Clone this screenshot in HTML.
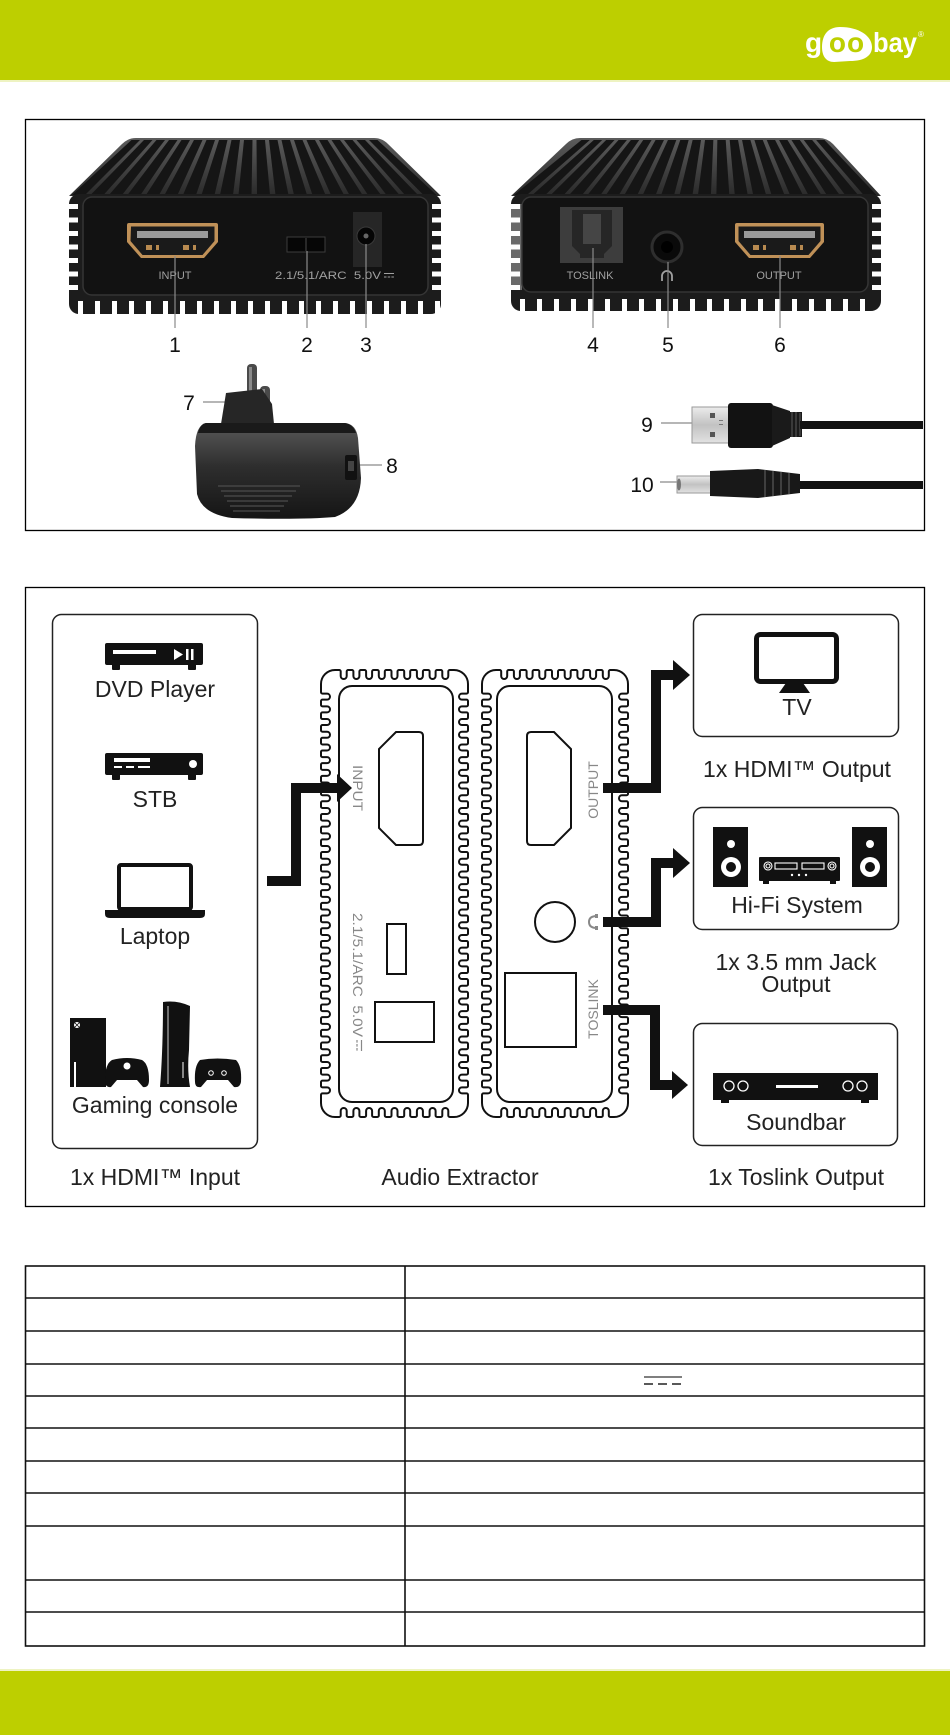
<!DOCTYPE html>
<html><head><meta charset="utf-8"><title>Audio Extractor</title>
<style>
html,body{margin:0;padding:0;background:#fff}
body{width:950px;height:1735px;overflow:hidden;position:relative}
svg{display:block}
</style></head><body>
<svg id="S" width="950" height="1735" viewBox="0 0 950 1735" font-family="'Liberation Sans', Arial, sans-serif">
<defs>
<linearGradient id="ag" x1="0" y1="0" x2="0" y2="1"><stop offset="0" stop-color="#5a5a5a"/><stop offset="0.45" stop-color="#2e2e2e"/><stop offset="1" stop-color="#151515"/></linearGradient>
<linearGradient id="mg" x1="0" y1="0" x2="0" y2="1"><stop offset="0" stop-color="#ececec"/><stop offset="0.5" stop-color="#c2c2c2"/><stop offset="1" stop-color="#e2e2e2"/></linearGradient>
<linearGradient id="tg" x1="0" y1="0" x2="0" y2="1"><stop offset="0" stop-color="#5c5c5c"/><stop offset="1" stop-color="#2a2a2a"/></linearGradient>
</defs>

<!-- header -->
<rect x="0" y="0" width="950" height="80" fill="#bdcf00"/>
<rect x="0" y="80" width="950" height="2" fill="#eef3c2"/>
<text x="805" y="52" font-size="28" font-weight="bold" fill="#fff">g</text>
<path d="M840,27 C859,27 872,36 872,47 C872,56 864,61 850,61 L834,62 C826,62 822,56 822,47 C822,35 828,27 840,27Z" fill="#fff"/>
<text x="847" y="52" font-size="28" font-weight="bold" fill="#bdcf00" text-anchor="middle" letter-spacing="1">oo</text>
<text x="873" y="52" font-size="28" font-weight="bold" fill="#fff" textLength="44" lengthAdjust="spacingAndGlyphs">bay</text>
<text x="918" y="37" font-size="8" fill="#fff">®</text>

<!-- BOX 1 -->
<rect x="25.5" y="119.5" width="899" height="411" fill="none" stroke="#000" stroke-width="1.3"/>

<!-- left device -->
<path d="M136,138 H374 Q382,138 388,144 L441,196 H69 L122,144 Q128,138 136,138Z" fill="url(#tg)"/>
<g id="f1"></g>
<rect x="69" y="194" width="372" height="120" rx="10" fill="#1c1c1c"/>
<g id="n1"></g>
<rect x="83" y="197" width="345" height="98" rx="9" fill="#121212" stroke="#353535" stroke-width="1.5"/>
<path d="M129,223 H216 Q218,223 218,225 V242 L204,258 H141 L127,242 V225 Q127,223 129,223Z" fill="#c09158"/>
<path d="M131,226.5 H214.5 V241 L202.5,255 H142.5 L130.5,241Z" fill="#1a1a1a"/>
<rect x="137" y="231" width="71" height="7" fill="#9a9a9a"/>
<rect x="146" y="245" width="6" height="5" fill="#b88a50"/><rect x="156" y="245" width="3" height="5" fill="#b88a50"/>
<rect x="183" y="245" width="6" height="5" fill="#b88a50"/><rect x="193" y="245" width="3" height="5" fill="#b88a50"/>
<rect x="287" y="237" width="38" height="15" fill="#060606" stroke="#3c3c3c"/>
<line x1="306" y1="238" x2="306" y2="251" stroke="#4a4a4a"/>
<rect x="353" y="212" width="29" height="55" fill="#262626"/>
<circle cx="366" cy="236" r="9" fill="#050505" stroke="#3a3a3a"/>
<circle cx="366" cy="236" r="2.5" fill="#666"/>
<text x="175" y="279" font-size="11" fill="#a0a0a0" text-anchor="middle">INPUT</text>
<text x="275" y="279" font-size="11" fill="#a0a0a0" textLength="106" lengthAdjust="spacingAndGlyphs">2.1/5.1/ARC&#160;&#160;5.0V</text>
<line x1="384" y1="273.5" x2="394" y2="273.5" stroke="#a0a0a0" stroke-width="1"/>
<line x1="384" y1="277" x2="394" y2="277" stroke="#a0a0a0" stroke-width="1" stroke-dasharray="2.5 1.2"/>

<!-- right device -->
<path d="M588,138 H819 Q827,138 833,144 L881,196 H511 L566,144 Q572,138 580,138Z" fill="url(#tg)"/>
<g id="f2"></g>
<rect x="511" y="194" width="370" height="117" rx="10" fill="#1c1c1c"/>
<rect x="511" y="204" width="11" height="86" fill="#6a6a6a"/>
<g id="n2"></g>
<rect x="522" y="197" width="346" height="95" rx="9" fill="#121212" stroke="#353535" stroke-width="1.5"/>
<rect x="560" y="207" width="63" height="56" fill="#3d3d3d"/>
<path d="M572,210 H612 V246 L604,254 V258 H580 V254 L572,246Z" fill="#262626"/>
<rect x="583" y="214" width="18" height="30" fill="#454545"/>
<circle cx="667" cy="247" r="15" fill="#0a0a0a" stroke="#2e2e2e" stroke-width="3"/>
<circle cx="667" cy="247" r="6" fill="#000"/>
<path d="M735,223 H822 Q824,223 824,225 V242 L810,258 H749 L735,242 V225 Q735,223 737,223Z" fill="#c09158"/>
<path d="M738.5,226.5 H820.5 V241 L808.5,255 H750.5 L738.5,241Z" fill="#1a1a1a"/>
<rect x="744" y="231" width="71" height="7" fill="#9a9a9a"/>
<rect x="753" y="245" width="6" height="5" fill="#b88a50"/><rect x="763" y="245" width="3" height="5" fill="#b88a50"/>
<rect x="790" y="245" width="6" height="5" fill="#b88a50"/><rect x="800" y="245" width="3" height="5" fill="#b88a50"/>
<text x="590" y="279" font-size="11" fill="#a0a0a0" text-anchor="middle">TOSLINK</text>
<text x="779" y="279" font-size="11" fill="#a0a0a0" text-anchor="middle">OUTPUT</text>
<path d="M662,281 V276 A5,5 0 0 1 672,276 V281" stroke="#a0a0a0" stroke-width="1.8" fill="none"/>

<!-- leaders + numbers -->
<g stroke="#8a8a8a" stroke-width="1.2">
<line x1="175" y1="256" x2="175" y2="328"/>
<line x1="307" y1="251" x2="307" y2="328"/>
<line x1="366" y1="244" x2="366" y2="328"/>
<line x1="593" y1="248" x2="593" y2="328"/>
<line x1="668" y1="262" x2="668" y2="328"/>
<line x1="780" y1="256" x2="780" y2="328"/>
<line x1="203" y1="402" x2="238" y2="402"/>
<line x1="356" y1="465" x2="382" y2="465"/>
<line x1="661" y1="423" x2="694" y2="423"/>
<line x1="660" y1="482" x2="678" y2="482"/>
</g>
<g font-size="21" fill="#111" text-anchor="middle">
<text x="175" y="352">1</text><text x="307" y="352">2</text><text x="366" y="352">3</text>
<text x="593" y="352">4</text><text x="668" y="352">5</text><text x="780" y="352">6</text>
<text x="189" y="410">7</text><text x="392" y="473">8</text>
<text x="647" y="432">9</text><text x="642" y="492">10</text>
</g>

<!-- adapter -->
<rect x="247" y="364" width="10" height="30" rx="4" fill="#4a4a4a"/>
<rect x="249" y="367" width="3" height="25" fill="#8a8a8a"/>
<rect x="260" y="386" width="10" height="20" rx="4" fill="#4a4a4a"/>
<rect x="262" y="389" width="3" height="15" fill="#8a8a8a"/>
<path d="M226,393 L262,389 L272,404 L274,424 L221,424Z" fill="#262626"/>
<path d="M206,423 H345 Q356,424 358,438 L361,478 Q360,508 335,517 Q300,520 232,518 Q202,514 197,494 L195,446 Q196,425 206,423Z" fill="url(#ag)"/>
<path d="M206,423 H345 Q353,424 356,433 H198 Q200,424 206,423Z" fill="#1a1a1a"/>
<g stroke="#4c4c4c" stroke-width="1.2">
<line x1="218" y1="486" x2="300" y2="486"/><line x1="221" y1="491" x2="296" y2="491"/>
<line x1="224" y1="496" x2="292" y2="496"/><line x1="227" y1="501" x2="288" y2="501"/>
<line x1="230" y1="506" x2="284" y2="506"/><line x1="233" y1="511" x2="280" y2="511"/>
</g>
<rect x="345" y="455" width="12" height="25" rx="2" fill="#111"/>
<rect x="348" y="461" width="6" height="10" fill="#444"/>

<!-- USB cable -->
<rect x="692" y="407" width="37" height="36" fill="url(#mg)" stroke="#9a9a9a"/>
<rect x="710" y="413" width="5" height="5" fill="#555"/>
<rect x="710" y="432" width="5" height="5" fill="#555"/>
<rect x="719" y="420" width="4" height="1" fill="#777"/><rect x="719" y="424" width="4" height="1" fill="#777"/>
<rect x="728" y="403" width="45" height="45" rx="3" fill="#121212"/>
<path d="M772,405 L790,411 V438 L772,446Z" fill="#1a1a1a"/>
<rect x="789" y="412" width="13" height="25" fill="#1a1a1a"/>
<g stroke="#505050" stroke-width="1.2"><line x1="792" y1="412" x2="792" y2="437"/><line x1="796" y1="412" x2="796" y2="437"/><line x1="800" y1="413" x2="800" y2="436"/></g>
<rect x="800" y="421" width="123" height="8" fill="#111"/>
<!-- DC cable -->
<rect x="677" y="476" width="34" height="17" fill="url(#mg)" stroke="#9a9a9a"/>
<ellipse cx="679" cy="484.5" rx="2" ry="6" fill="#777"/>
<path d="M710,471 L758,469 L800,474 V493 L758,498 L710,496Z" fill="#181818"/>
<g stroke="#555" stroke-width="1.3"><line x1="765" y1="470" x2="765" y2="497"/><line x1="773" y1="471" x2="773" y2="496"/><line x1="781" y1="472" x2="781" y2="495"/><line x1="789" y1="473" x2="789" y2="494"/></g>
<rect x="800" y="481" width="123" height="8" fill="#111"/>

<!-- BOX 2 -->
<rect x="25.5" y="587.5" width="899" height="619" fill="none" stroke="#000" stroke-width="1.3"/>

<!-- left panel -->
<rect x="52.5" y="614.5" width="205" height="534" rx="9" fill="none" stroke="#222" stroke-width="1.5"/>
<!-- DVD -->
<rect x="105" y="643" width="98" height="22" rx="2" fill="#111"/>
<rect x="112" y="664" width="8" height="6" rx="1" fill="#111"/><rect x="188" y="664" width="8" height="6" rx="1" fill="#111"/>
<rect x="113" y="650" width="43" height="4" fill="#fff"/>
<path d="M174,649 L183,654.5 L174,660Z" fill="#fff"/>
<rect x="186" y="649" width="2.5" height="11" fill="#fff"/><rect x="191" y="649" width="2.5" height="11" fill="#fff"/>
<!-- STB -->
<rect x="105" y="753" width="98" height="22" rx="2" fill="#111"/>
<rect x="112" y="774" width="8" height="6" rx="1" fill="#111"/><rect x="188" y="774" width="8" height="6" rx="1" fill="#111"/>
<rect x="114" y="758" width="36" height="4" fill="#fff"/>
<rect x="114" y="766" width="8" height="2" fill="#fff"/><rect x="126" y="766" width="8" height="2" fill="#fff"/><rect x="138" y="766" width="12" height="2" fill="#fff"/>
<circle cx="193" cy="764" r="4" fill="#fff"/>
<!-- Laptop -->
<rect x="119" y="865" width="72" height="44" rx="2" fill="none" stroke="#111" stroke-width="4"/>
<path d="M105,910 H205 V914 Q205,918 200,918 H110 Q105,918 105,914Z" fill="#111"/>
<!-- Gaming -->
<rect x="70" y="1018" width="36" height="69" fill="#111"/>
<circle cx="77" cy="1025" r="3" fill="#fff"/>
<path d="M75,1023 L79,1027 M79,1023 L75,1027" stroke="#111" stroke-width="0.8"/>
<rect x="74" y="1062" width="2" height="25" fill="#fff"/>
<path d="M112,1060 Q127,1056 142,1060 Q149,1064 149,1080 Q149,1088 143,1087 L137,1080 H117 L111,1087 Q105,1088 105,1080 Q105,1064 112,1060Z" fill="#111"/>
<circle cx="127" cy="1066" r="3.5" fill="#fff"/>
<path d="M163,1002 Q177,1000 190,1006 L189,1050 Q187,1070 190,1087 H160 Q163,1050 163,1002Z" fill="#111"/>
<line x1="168" y1="1006" x2="168" y2="1084" stroke="#fff" stroke-width="0.8"/>
<line x1="183" y1="1062" x2="183" y2="1078" stroke="#fff" stroke-width="1"/>
<path d="M200,1060 Q217,1057 236,1060 Q242,1066 241,1082 Q240,1088 234,1087 L228,1080 H207 L201,1087 Q195,1088 195,1082 Q194,1066 200,1060Z" fill="#111"/>
<circle cx="211" cy="1073" r="2.3" fill="none" stroke="#fff" stroke-width="1"/>
<circle cx="224" cy="1073" r="2.3" fill="none" stroke="#fff" stroke-width="1"/>

<g font-size="23" fill="#222" text-anchor="middle">
<text x="155" y="697">DVD Player</text>
<text x="155" y="807">STB</text>
<text x="155" y="944">Laptop</text>
<text x="155" y="1113">Gaming console</text>
<text x="155" y="1185">1x HDMI™ Input</text>
<text x="460" y="1185">Audio Extractor</text>
<text x="797" y="715">TV</text>
<text x="797" y="777">1x HDMI™ Output</text>
<text x="797" y="913">Hi-Fi System</text>
<text x="796" y="970">1x 3.5 mm Jack</text>
<text x="796" y="992">Output</text>
<text x="796" y="1130">Soundbar</text>
<text x="796" y="1185">1x Toslink Output</text>
</g>

<!-- device outlines -->
<g id="scal" fill="none" stroke="#111" stroke-width="2"></g>
<g fill="none" stroke="#111" stroke-width="2">
<rect x="339" y="686" width="114" height="416" rx="13"/>
<rect x="497" y="686" width="115" height="416" rx="13"/>
<path d="M419,732 Q423,732 423,736 V841 Q423,845 419,845 H396 L379,828 V749 L396,732Z"/>
<path d="M531,732 H554 L571,749 V828 L554,845 H531 Q527,845 527,841 V736 Q527,732 531,732Z"/>
<rect x="387" y="924" width="19" height="50"/>
<rect x="375" y="1002" width="59" height="40"/>
<circle cx="555" cy="922" r="20"/>
<rect x="505" y="973" width="71" height="74"/>
</g>
<g font-size="14" fill="#888">
<text transform="translate(353,788) rotate(90)" text-anchor="middle" textLength="46" lengthAdjust="spacingAndGlyphs">INPUT</text>
<text transform="translate(353,913) rotate(90)" textLength="124" lengthAdjust="spacingAndGlyphs">2.1/5.1/ARC&#160;&#160;5.0V</text>
<text transform="translate(598,790) rotate(-90)" text-anchor="middle">OUTPUT</text>
<text transform="translate(598,1009) rotate(-90)" text-anchor="middle">TOSLINK</text>
</g>
<line x1="361.5" y1="1040" x2="361.5" y2="1051" stroke="#888" stroke-width="1.2"/>
<line x1="357" y1="1040" x2="357" y2="1051" stroke="#888" stroke-width="1.2" stroke-dasharray="2.6 1.4"/>
<path d="M597,916 Q589,916 589,922 Q589,928 597,928" stroke="#888" stroke-width="2" fill="none"/>
<rect x="595" y="914" width="3" height="4" fill="#888"/><rect x="595" y="926" width="3" height="4" fill="#888"/>

<!-- arrows -->
<g fill="none" stroke="#111" stroke-width="10" stroke-linejoin="miter">
<path d="M267,881 H296 V788 H339"/>
<path d="M603,788 H656 V675 H675"/>
<path d="M603,922 H656 V863 H675"/>
<path d="M603,1010 H655 V1085 H674"/>
</g>
<g fill="#111">
<path d="M337,774 L352,788 L337,802Z"/>
<path d="M673,660 L690,675 L673,690Z"/>
<path d="M673,848 L690,863 L673,878Z"/>
<path d="M672,1071 L688,1085 L672,1099Z"/>
</g>

<!-- right boxes -->
<g fill="none" stroke="#222" stroke-width="1.5">
<rect x="693.5" y="614.5" width="205" height="122" rx="9"/>
<rect x="693.5" y="807.5" width="205" height="122" rx="9"/>
<rect x="693.5" y="1023.5" width="204" height="122" rx="9"/>
</g>
<!-- TV -->
<rect x="756.5" y="634.5" width="80" height="47" rx="4" fill="none" stroke="#111" stroke-width="5"/>
<path d="M786,683 H803 L810,693 H779Z" fill="#111"/>
<!-- HiFi -->
<rect x="713" y="827" width="35" height="60" fill="#111"/>
<circle cx="731" cy="844" r="4" fill="#fff"/>
<circle cx="731" cy="867" r="10" fill="#fff"/><circle cx="731" cy="867" r="5" fill="#111"/>
<rect x="852" y="827" width="35" height="60" fill="#111"/>
<circle cx="870" cy="844" r="4" fill="#fff"/>
<circle cx="870" cy="867" r="10" fill="#fff"/><circle cx="870" cy="867" r="5" fill="#111"/>
<rect x="759" y="857" width="81" height="24" rx="1" fill="#111"/>
<rect x="763" y="880" width="6" height="4" fill="#111"/><rect x="830" y="880" width="6" height="4" fill="#111"/>
<g fill="none" stroke="#fff" stroke-width="1.1">
<circle cx="768" cy="866" r="4"/><circle cx="768" cy="866" r="2"/>
<circle cx="832" cy="866" r="4"/><circle cx="832" cy="866" r="2"/>
<rect x="775" y="863" width="22" height="6"/><rect x="802" y="863" width="22" height="6"/>
</g>
<circle cx="792" cy="875" r="1.2" fill="#fff"/><circle cx="799" cy="875" r="1.2" fill="#fff"/><circle cx="806" cy="875" r="1.2" fill="#fff"/>
<!-- Soundbar -->
<rect x="713" y="1073" width="165" height="27" fill="#111"/>
<rect x="721" y="1099" width="8" height="4" fill="#111"/><rect x="861" y="1099" width="8" height="4" fill="#111"/>
<g fill="none" stroke="#fff" stroke-width="1.3">
<circle cx="729" cy="1086" r="5"/><circle cx="743" cy="1086" r="5"/>
<circle cx="848" cy="1086" r="5"/><circle cx="862" cy="1086" r="5"/>
</g>
<rect x="776" y="1085" width="42" height="3" fill="#fff"/>

<!-- TABLE -->
<g stroke="#111" stroke-width="1.6" fill="none">
<rect x="25.5" y="1266" width="899" height="380"/>
<line x1="405" y1="1266" x2="405" y2="1646"/>
<line x1="25" y1="1298" x2="925" y2="1298"/>
<line x1="25" y1="1331" x2="925" y2="1331"/>
<line x1="25" y1="1364" x2="925" y2="1364"/>
<line x1="25" y1="1396" x2="925" y2="1396"/>
<line x1="25" y1="1428" x2="925" y2="1428"/>
<line x1="25" y1="1461" x2="925" y2="1461"/>
<line x1="25" y1="1493" x2="925" y2="1493"/>
<line x1="25" y1="1526" x2="925" y2="1526"/>
<line x1="25" y1="1580" x2="925" y2="1580"/>
<line x1="25" y1="1612" x2="925" y2="1612"/>
</g>
<line x1="644" y1="1377" x2="682" y2="1377" stroke="#555" stroke-width="1.4"/>
<line x1="644" y1="1384" x2="682" y2="1384" stroke="#222" stroke-width="1.6" stroke-dasharray="9 5"/>

<!-- footer -->
<rect x="0" y="1669" width="950" height="2" fill="#eef3c2"/>
<rect x="0" y="1671" width="950" height="64" fill="#bdcf00"/>
</svg>
<script>
(function(){
function fins(x0t,x1t,yt,x0b,x1b,yb,n){
  var s='',tp=(x1t-x0t)/n,bp=(x1b-x0b)/n;
  for(var i=0;i<n;i++){
    var a=x0t+i*tp+1.5,b=a+tp-4,d=x0b+i*bp+2,c=d+bp-5.5;
    s+='<path d="M'+a+','+yt+'L'+b+','+yt+'L'+c+','+yb+'L'+d+','+yb+'Z" fill="#151515"/>';
  }
  return s;
}
function notches(xl,xr,y0,y1,bx0,bx1,by){
  var s='';
  for(var y=y0;y<y1;y+=13.5){
    s+='<rect x="'+(xl-1)+'" y="'+y+'" width="10" height="5" fill="#fff"/>';
    s+='<rect x="'+(xr-9)+'" y="'+y+'" width="10" height="5" fill="#fff"/>';
  }
  for(var x=bx0;x<bx1;x+=17){
    s+='<rect x="'+x+'" y="'+by+'" width="5" height="14" fill="#fff"/>';
  }
  return s;
}
document.getElementById('f1').innerHTML=fins(130,380,140,70,440,195,20);
document.getElementById('f2').innerHTML=fins(580,827,140,512,880,195,20);
document.getElementById('n1').innerHTML=notches(69,441,204,292,78,436,301);
document.getElementById('n2').innerHTML=notches(511,881,204,290,520,876,299);

function scallop(L,T,R,B){
  var d=9,gw=6,p=12.7,r1=1.5,rc=5,mg=4;
  var bL=L+d,bT=T+d,bR=R-d,bB=B-d;
  var E=[[bL+rc,bT,bR-rc,bT,1,0,0,-1],[bR,bT+rc,bR,bB-rc,0,1,1,0],[bR-rc,bB,bL+rc,bB,-1,0,0,1],[bL,bB-rc,bL,bT+rc,0,-1,-1,0]];
  function P(e,t,o){return (e[0]+e[4]*t+e[6]*o).toFixed(2)+','+(e[1]+e[5]*t+e[7]*o).toFixed(2);}
  var s='M'+P(E[0],0,d);
  for(var i=0;i<4;i++){
    var e=E[i];
    var len=Math.abs(e[2]-e[0])+Math.abs(e[3]-e[1]);
    var m=Math.floor((len-2*mg+(p-gw))/p);
    var G0=(len-(m*p-(p-gw)))/2;
    for(var k=0;k<m;k++){
      var G=G0+k*p;
      s+='L'+P(e,G-r1,d)+'A'+r1+','+r1+' 0 0 1 '+P(e,G,d-r1)+'L'+P(e,G,gw/2)+'A'+(gw/2)+','+(gw/2)+' 0 0 0 '+P(e,G+gw,gw/2)+'L'+P(e,G+gw,d-r1)+'A'+r1+','+r1+' 0 0 1 '+P(e,G+gw+r1,d);
    }
    s+='L'+P(e,len,d);
    var nx=E[(i+1)%4];
    s+='A'+(rc+d)+','+(rc+d)+' 0 0 1 '+P(nx,0,d);
  }
  return s+'Z';
}
document.getElementById('scal').innerHTML='<path d="'+scallop(321,670,468,1117)+'"/><path d="'+scallop(482,670,628,1117)+'"/>';
})();
</script>
</body></html>
